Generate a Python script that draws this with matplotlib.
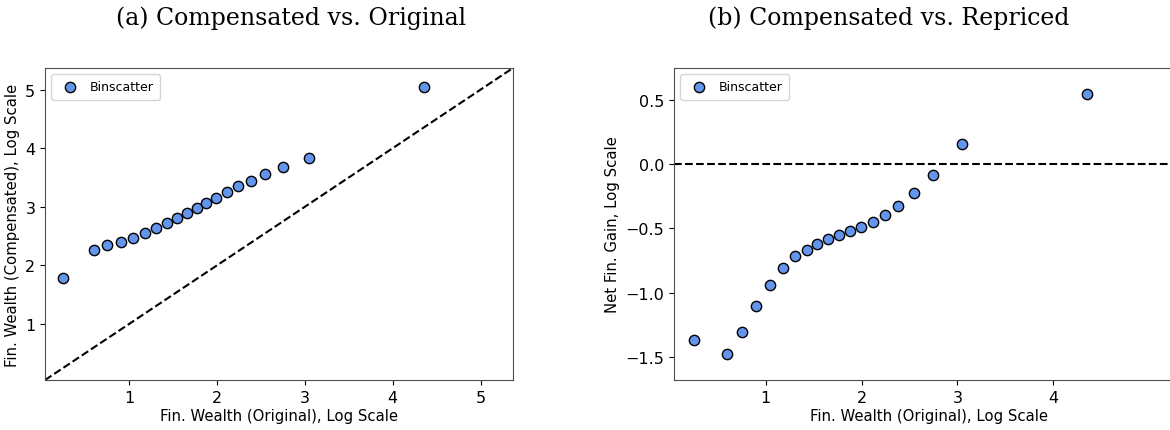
import numpy as np
import matplotlib
matplotlib.use("Agg")
import matplotlib.pyplot as plt


# binned means, log scale
wealth_orig = [0.249, 0.596, 0.753, 0.904, 1.044, 1.178, 1.305, 1.427, 1.541, 1.654,
               1.768, 1.880, 1.994, 2.116, 2.245, 2.384, 2.546, 2.749, 3.048, 4.356]
wealth_comp = [1.784, 2.267, 2.341, 2.398, 2.472, 2.552, 2.631, 2.716, 2.801, 2.892,
               2.978, 3.063, 3.154, 3.250, 3.347, 3.444, 3.557, 3.682, 3.841, 5.046]
net_gain = [-1.368, -1.474, -1.303, -1.099, -0.937, -0.803, -0.710, -0.666, -0.622, -0.578,
            -0.549, -0.521, -0.487, -0.446, -0.394, -0.329, -0.225, -0.083, 0.153, 0.547]

titles = ["(a) Compensated vs. Original", "(b) Compensated vs. Repriced"]
xlabel = "Fin. Wealth (Original), Log Scale"
ylabels = ["Fin. Wealth (Compensated), Log Scale", "Net Fin. Gain, Log Scale"]

lims = (0.044, 5.37)
gain_lims = (-1.676, 0.746)

DOT = dict(s=55, c="cornflowerblue", edgecolors="black", linewidths=1.0,
           label="Binscatter", zorder=3)


def style_axis(ax, ylabel):
    ax.set_xlabel(xlabel, fontsize=10.7, labelpad=2)
    ax.set_ylabel(ylabel, fontsize=10.7, labelpad=4)
    ax.tick_params(labelsize=11.5)
    for sp in ax.spines.values():
        sp.set_color("0.3")
    ax.legend(loc="upper left", fontsize=9, scatterpoints=1, borderpad=0.5,
              handletextpad=0.6)


fig = plt.figure(figsize=(11.7, 4.31), dpi=100)

ax1 = fig.add_axes([0.0385, 0.116, 0.4, 0.724])
ax1.scatter(wealth_orig, wealth_comp, **DOT)
ax1.plot(lims, lims, "k--", lw=1.5)
ax1.set_xlim(lims)
ax1.set_ylim(lims)
ax1.set_xticks([1, 2, 3, 4, 5])
ax1.set_yticks([1, 2, 3, 4, 5])
style_axis(ax1, ylabels[0])

# right panel runs past the figure edge
ax2 = fig.add_axes([0.576, 0.116, 0.4366, 0.724])
ax2.scatter(wealth_orig, net_gain, **DOT)
ax2.axhline(0, color="black", ls="--", lw=1.5)
ax2.set_xlim(lims)
ax2.set_ylim(gain_lims)
ax2.set_xticks([1, 2, 3, 4])
ax2.set_yticks([-1.5, -1.0, -0.5, 0.0, 0.5])
style_axis(ax2, ylabels[1])

fig.text(0.249, 0.958, titles[0], ha="center", va="center",
         fontsize=17, family="DejaVu Serif")
fig.text(0.760, 0.958, titles[1], ha="center", va="center",
         fontsize=17, family="DejaVu Serif")

fig.savefig("out.png", dpi=100)
